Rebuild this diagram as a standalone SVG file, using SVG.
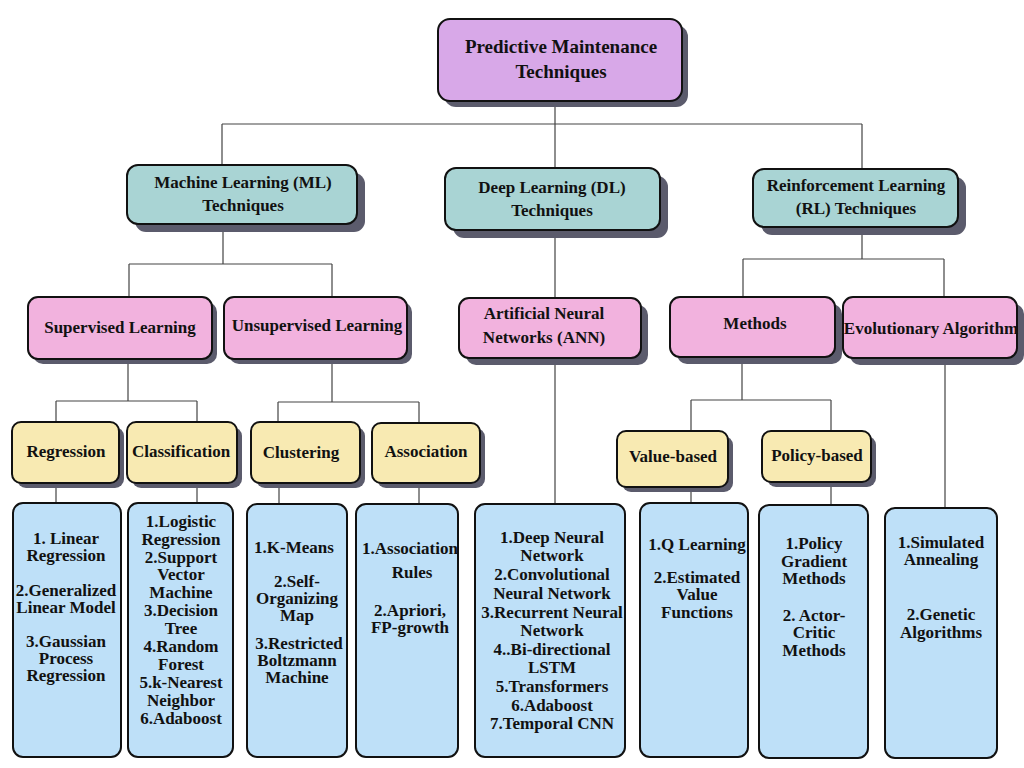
<svg xmlns="http://www.w3.org/2000/svg" width="1024" height="768" viewBox="0 0 1024 768">
<defs>
<style>
text{font-family:"Liberation Serif","Times New Roman",serif;font-weight:bold;fill:#111;text-anchor:middle}
.sh{fill:#5b5b6c}
.bx{stroke:#111;stroke-width:2}
.l1{fill:#d8a8e8}
.l2{fill:#a9d4d4}
.l3{fill:#f2b2de}
.l4{fill:#f8eab2}
.l5{fill:#bee0f8}
.t1{font-size:19px}
.t2{font-size:17px}
.t5{font-size:17px}
.cn{fill:none;stroke:#444;stroke-width:1.2}
</style>
</defs>
<rect width="1024" height="768" fill="#fff"/>
<g id="connectors" class="cn">
<path d="M555 101V124M222 124H862M222 124V165M555 124V168M862 124V169"/>
<path d="M223 224V264M129 264H332M129 264V297M332 264V297"/>
<path d="M128 359V401M56 401H197M56 401V422M197 401V422"/>
<path d="M332 359V402M278 402H419M278 402V422M419 402V423"/>
<path d="M56 483V503M197 483V503M279 483V504M419 483V504"/>
<path d="M555 230V298M555 358V504"/>
<path d="M862 227V259M743 259H944M743 259V297M944 259V297"/>
<path d="M742 357V400M691 400H831M691 400V431M831 400V431"/>
<path d="M691 487V503M831 482V505M945 358V508"/>
</g>
<g id="n-root"><rect class="sh" x="444" y="25" width="244" height="82" rx="12"/><rect class="bx l1" x="438" y="19" width="244" height="82" rx="12"/><text class="t1" x="561" y="53">Predictive Maintenance</text><text class="t1" x="561" y="78">Techniques</text></g>
<g id="n-ml"><rect class="sh" x="135" y="173" width="230" height="59" rx="11"/><rect class="bx l2" x="127" y="165" width="230" height="59" rx="11"/><text class="t2" x="243" y="188">Machine Learning (ML)</text><text class="t2" x="243" y="211">Techniques</text></g>
<g id="n-dl"><rect class="sh" x="453" y="176" width="215" height="62" rx="11"/><rect class="bx l2" x="445" y="168" width="215" height="62" rx="11"/><text class="t2" x="552" y="193">Deep Learning (DL)</text><text class="t2" x="552" y="216">Techniques</text></g>
<g id="n-rl"><rect class="sh" x="761" y="177" width="205" height="58" rx="11"/><rect class="bx l2" x="753" y="169" width="205" height="58" rx="11"/><text class="t2" x="856" y="191">Reinforcement Learning</text><text class="t2" x="856" y="214">(RL) Techniques</text></g>
<g id="n-sup"><rect class="sh" x="33" y="302" width="184" height="62" rx="10"/><rect class="bx l3" x="28" y="297" width="184" height="62" rx="10"/><text class="t2" x="120" y="333">Supervised Learning</text></g>
<g id="n-unsup"><rect class="sh" x="229" y="302" width="183" height="62" rx="10"/><rect class="bx l3" x="224" y="297" width="183" height="62" rx="10"/><text class="t2" x="317" y="331">Unsupervised Learning</text></g>
<g id="n-ann"><rect class="sh" x="466" y="305" width="182" height="60" rx="10"/><rect class="bx l3" x="459" y="298" width="182" height="60" rx="10"/><text class="t2" x="544" y="319">Artificial Neural</text><text class="t2" x="544" y="343">Networks (ANN)</text></g>
<g id="n-methods"><rect class="sh" x="677" y="304" width="165" height="60" rx="10"/><rect class="bx l3" x="670" y="297" width="165" height="60" rx="10"/><text class="t2" x="755" y="329">Methods</text></g>
<g id="n-evo"><rect class="sh" x="850" y="304" width="174" height="61" rx="10"/><rect class="bx l3" x="843" y="297" width="174" height="61" rx="10"/><text class="t2" x="931" y="334">Evolutionary Algorithm</text></g>
<g id="n-regression"><rect class="sh" x="17" y="427" width="107" height="61" rx="9"/><rect class="bx l4" x="12" y="422" width="107" height="61" rx="9"/><text class="t2" x="66" y="457">Regression</text></g>
<g id="n-classification"><rect class="sh" x="132" y="427" width="110" height="61" rx="9"/><rect class="bx l4" x="127" y="422" width="110" height="61" rx="9"/><text class="t2" x="181" y="457">Classification</text></g>
<g id="n-clustering"><rect class="sh" x="256" y="427" width="109" height="61" rx="9"/><rect class="bx l4" x="251" y="422" width="109" height="61" rx="9"/><text class="t2" x="301" y="458">Clustering</text></g>
<g id="n-association"><rect class="sh" x="377" y="428" width="108" height="60" rx="9"/><rect class="bx l4" x="372" y="423" width="108" height="60" rx="9"/><text class="t2" x="426" y="457">Association</text></g>
<g id="n-value"><rect class="sh" x="622" y="436" width="111" height="56" rx="9"/><rect class="bx l4" x="617" y="431" width="111" height="56" rx="9"/><text class="t2" x="673" y="462">Value-based</text></g>
<g id="n-policy"><rect class="sh" x="767" y="436" width="109" height="51" rx="9"/><rect class="bx l4" x="762" y="431" width="109" height="51" rx="9"/><text class="t2" x="817" y="461">Policy-based</text></g>
<g id="b-regression"><rect class="bx l5" x="13" y="503" width="108" height="254" rx="10"/>
<text class="t5" x="66"><tspan x="66" y="544">1. Linear</tspan><tspan x="66" y="561">Regression</tspan><tspan x="66" y="596">2.Generalized</tspan><tspan x="66" y="613">Linear Model</tspan><tspan x="66" y="647">3.Gaussian</tspan><tspan x="66" y="664">Process</tspan><tspan x="66" y="681">Regression</tspan></text></g>
<g id="b-classification"><rect class="bx l5" x="128" y="503" width="105" height="254" rx="10"/>
<text class="t5" x="181"><tspan x="181" y="527">1.Logistic</tspan><tspan x="181" y="545">Regression</tspan><tspan x="181" y="563">2.Support</tspan><tspan x="181" y="580">Vector</tspan><tspan x="181" y="598">Machine</tspan><tspan x="181" y="616">3.Decision</tspan><tspan x="181" y="634">Tree</tspan><tspan x="181" y="652">4.Random</tspan><tspan x="181" y="670">Forest</tspan><tspan x="181" y="688">5.k-Nearest</tspan><tspan x="181" y="706">Neighbor</tspan><tspan x="181" y="724">6.Adaboost</tspan></text></g>
<g id="b-clustering"><rect class="bx l5" x="247" y="504" width="100" height="253" rx="10"/>
<text class="t5" x="297"><tspan x="294" y="553">1.K-Means</tspan><tspan x="297" y="587">2.Self-</tspan><tspan x="297" y="604">Organizing</tspan><tspan x="297" y="621">Map</tspan><tspan x="299" y="649">3.Restricted</tspan><tspan x="297" y="666">Boltzmann</tspan><tspan x="297" y="683">Machine</tspan></text></g>
<g id="b-association"><rect class="bx l5" x="356" y="504" width="102" height="253" rx="10"/>
<text class="t5" x="410"><tspan x="410" y="554">1.Association</tspan><tspan x="412" y="578">Rules</tspan><tspan x="410" y="616">2.Apriori,</tspan><tspan x="410" y="633">FP-growth</tspan></text></g>
<g id="b-dl"><rect class="bx l5" x="475" y="504" width="150" height="253" rx="10"/>
<text class="t5" x="552"><tspan x="552" y="543">1.Deep Neural</tspan><tspan x="552" y="561">Network</tspan><tspan x="552" y="580">2.Convolutional</tspan><tspan x="552" y="599">Neural Network</tspan><tspan x="552" y="618">3.Recurrent Neural</tspan><tspan x="552" y="636">Network</tspan><tspan x="552" y="655">4..Bi-directional</tspan><tspan x="552" y="673">LSTM</tspan><tspan x="552" y="692">5.Transformers</tspan><tspan x="552" y="711">6.Adaboost</tspan><tspan x="552" y="729">7.Temporal CNN</tspan></text></g>
<g id="b-value"><rect class="bx l5" x="640" y="503" width="108" height="254" rx="10"/>
<text class="t5" x="697"><tspan x="697" y="550">1.Q Learning</tspan><tspan x="697" y="583">2.Estimated</tspan><tspan x="697" y="600">Value</tspan><tspan x="697" y="618">Functions</tspan></text></g>
<g id="b-policy"><rect class="bx l5" x="759" y="505" width="109" height="253" rx="10"/>
<text class="t5" x="814"><tspan x="814" y="549">1.Policy</tspan><tspan x="814" y="567">Gradient</tspan><tspan x="814" y="584">Methods</tspan><tspan x="814" y="621">2. Actor-</tspan><tspan x="814" y="638">Critic</tspan><tspan x="814" y="656">Methods</tspan></text></g>
<g id="b-evo"><rect class="bx l5" x="885" y="508" width="112" height="250" rx="10"/>
<text class="t5" x="941"><tspan x="941" y="548">1.Simulated</tspan><tspan x="941" y="565">Annealing</tspan><tspan x="941" y="620">2.Genetic</tspan><tspan x="941" y="638">Algorithms</tspan></text></g>
</svg>
